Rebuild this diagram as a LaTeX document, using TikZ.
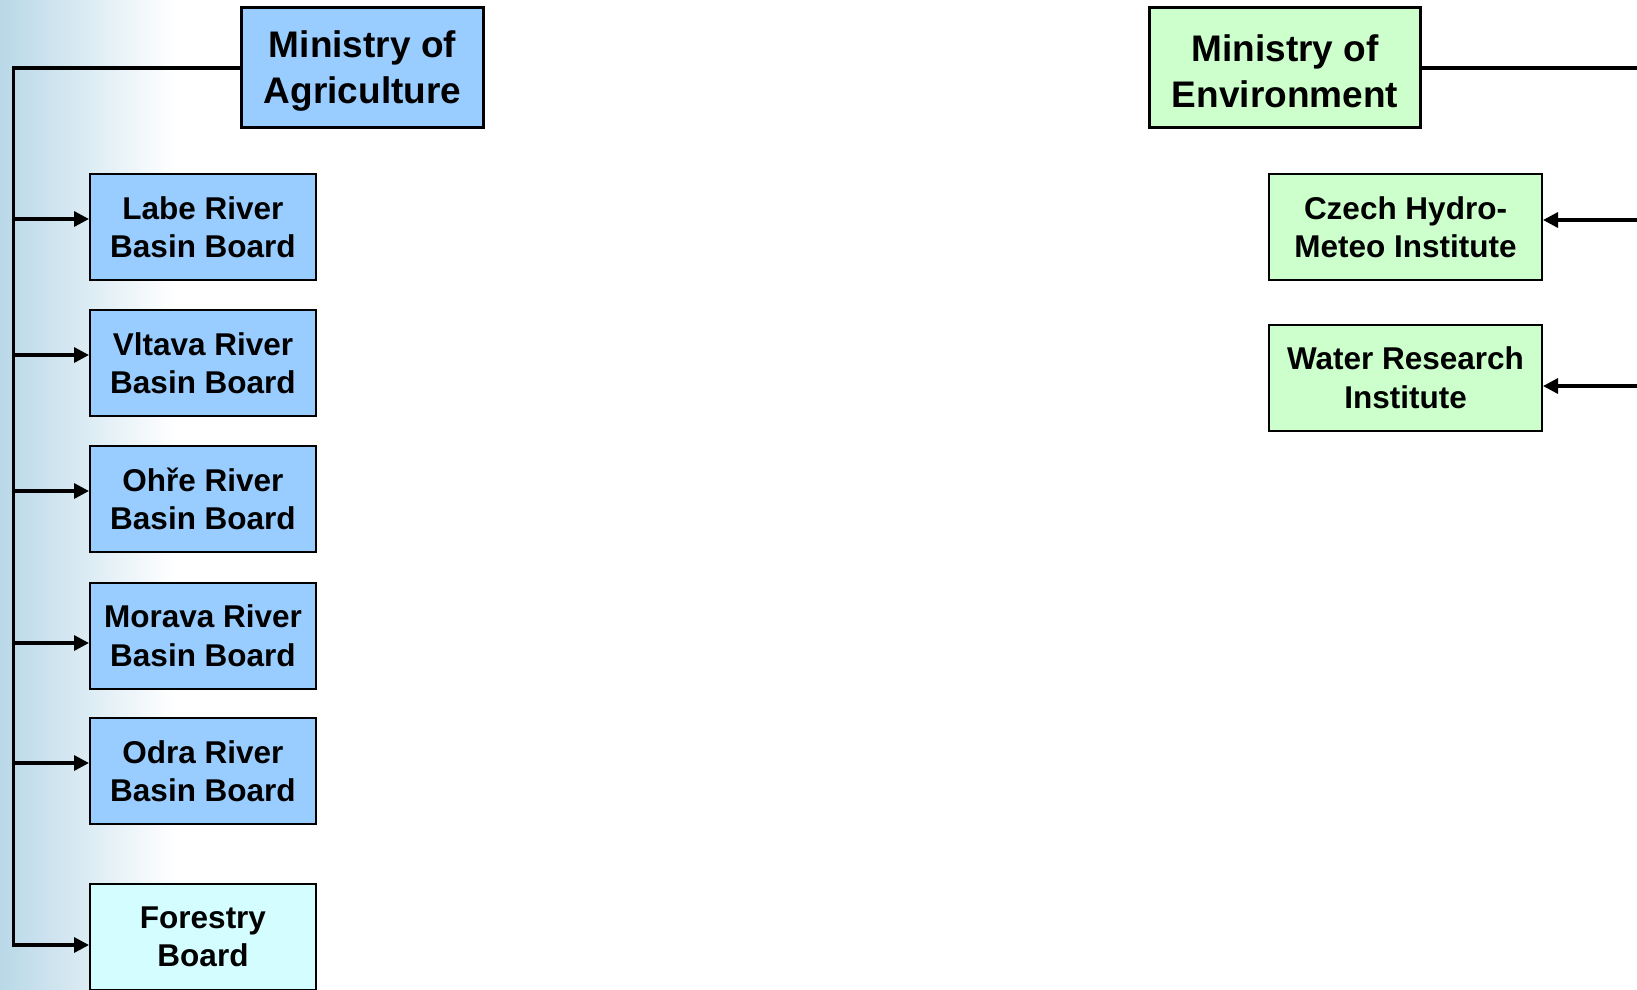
\documentclass[tikz,border=0pt]{standalone}
\usepackage{fontspec}
\setmainfont{Liberation Sans}
\usetikzlibrary{arrows.meta}
\definecolor{bluefill}{HTML}{99CCFF}
\definecolor{greenfill}{HTML}{CCFFCC}
\definecolor{cyanfill}{HTML}{D4FDFF}
\definecolor{bgblue}{HTML}{B9D8E8}
\tikzset{
  ministry/.style 2 args={draw=black, line width=3pt, minimum width=#1, minimum height=120pt, inner sep=0pt,
     label={[align=center, font=\fontsize{37}{46}\selectfont\bfseries, yshift=-3.5pt]center:#2}},
  smallbox/.style={draw=black, line width=2pt, minimum height=106pt, align=center,
     font=\fontsize{31.5}{38.5}\selectfont\bfseries, inner sep=0pt},
  conn/.style={line width=3.5pt, line cap=rect},
  arr/.style={line width=3.3pt, -{Triangle[length=15pt,width=15pt]}},
}
\begin{document}
\begin{tikzpicture}[x=1pt,y=-1pt]
\useasboundingbox (0,0) rectangle (1637,989);
\shade[left color=bgblue, right color=white] (0,0) rectangle (175,989);
% left ministry
\node[ministry={242pt}{Ministry of\\Agriculture}, fill=bluefill] (agr) at (362.5,67.5) {};
\node[smallbox, fill=bluefill, minimum width=226pt] (labe) at (203,227) {Labe River\\Basin Board};
\node[smallbox, fill=bluefill, minimum width=226pt] (vltava) at (203,363) {Vltava River\\Basin Board};
\node[smallbox, fill=bluefill, minimum width=226pt] (ohre) at (203,499) {Ohře River\\Basin Board};
\node[smallbox, fill=bluefill, minimum width=226pt] (morava) at (203,635.5) {Morava River\\Basin Board};
\node[smallbox, fill=bluefill, minimum width=226pt] (odra) at (203,771) {Odra River\\Basin Board};
\node[smallbox, fill=cyanfill, minimum width=226pt] (forest) at (203,937) {Forestry\\Board};
% trunk
\coordinate (top) at (13.5,68);
\coordinate (bot) at (13.5,945);
\draw[conn] (agr.west |- top) -- (top) -- (bot);
\foreach \n/\y in {labe/219, vltava/355, ohre/491, morava/643, odra/763, forest/945}{
  \coordinate (c\n) at (13.5,\y);
  \draw[arr] (c\n) -- (c\n -| \n.west);
}
% right ministry
\node[ministry={271pt}{Ministry of\\Environment}, fill=greenfill] (env) at (1285,67.5) {};
\node[smallbox, fill=greenfill, minimum width=273pt] (chmi) at (1405.5,227) {Czech Hydro-\\Meteo Institute};
\node[smallbox, fill=greenfill, minimum width=273pt] (wri) at (1405.5,377.5) {Water Research\\Institute};
\coordinate (r0) at (1637,68);
\coordinate (r1) at (1637,220);
\coordinate (r2) at (1637,386);
\draw[conn] (env.east |- r0) -- (r0);
\draw[arr] (r1) -- (r1 -| chmi.east);
\draw[arr] (r2) -- (r2 -| wri.east);
\end{tikzpicture}
\end{document}
